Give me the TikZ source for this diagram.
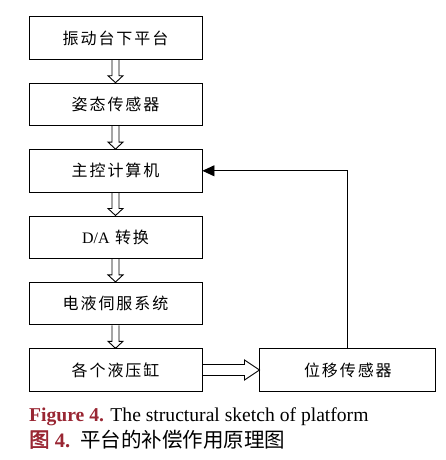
\documentclass[tikz,border=0pt]{standalone}
\usepackage{fontspec}
\setmainfont{Liberation Serif}
\newfontfamily\cjkbox[LetterSpace=12]{Noto Sans CJK SC}
\newfontfamily\cjk[AutoFakeBold=2]{Noto Sans CJK SC}
\usetikzlibrary{calc, positioning, arrows.meta}
\definecolor{figred}{RGB}{153,38,51}
\tikzset{ b/.style = { rectangle
                       , draw
                       , line width   = 0.9pt
                       , minimum width  = 173pt
                       , minimum height = 42.5pt
                       , inner sep    = 0pt
                       , font         = \fontsize{16}{18}\selectfont\cjkbox
                       },
          hollow/.style = { line width = 0.9pt
                          , line join  = miter
                          },
          fb/.style = { line width = 0.9pt
                      , -{Triangle[length=12pt, width=11pt]}
                      }
        }
% hollow arrow downwards, from box #1 to box #2
\newcommand{\hollowdown}[2]{%
  \draw[hollow] ($(#1.south)+(-3.5,0)$) -- ($(#2.north)+(-3.5,-7)$) -- ++(-4,0)
    -- (#2.north) -- ++(7.5,-7) -- ++(-4,0) -- ($(#1.south)+(3.5,0)$);}
% hollow arrow to the right
\newcommand{\hollowright}[2]{%
  \draw[hollow] ($(#1.east)+(0,-5.5)$) -- ($(#2.west)+(-15,-5.5)$) -- ++(0,-4.5)
    -- (#2.west) -- ++(-15,10) -- ++(0,-4.5) -- ($(#1.east)+(0,5.5)$);}

\begin{document}
\begin{tikzpicture}[x=1pt, y=-1pt, node distance=23pt]
  \useasboundingbox (0,0) rectangle (445,460);
  \node[b] (plat)  at (115.5,38) {振动台下平台};
  \node[b, below=of plat]  (att)   {姿态传感器};
  \node[b, below=of att]   (ctrl)  {主控计算机};
  \node[b, below=of ctrl]  (da)    {{\rmfamily D/A} 转换};
  \node[b, below=of da]    (servo) {电液伺服系统};
  \node[b, below=of servo] (cyl)   {各个液压缸};
  \node[b, right=57pt of cyl, minimum width=176pt] (disp) {位移传感器};

  \hollowdown{plat}{att}
  \hollowdown{att}{ctrl}
  \hollowdown{ctrl}{da}
  \hollowdown{da}{servo}
  \hollowdown{servo}{cyl}
  \hollowright{cyl}{disp}
  \draw[fb] (disp.north) |- (ctrl.east);

  % caption
  \node[anchor=base west, inner sep=0pt, font=\fontsize{19.6}{21}\selectfont] (cap1) at (29,421)
    {\textcolor{figred}{\bfseries Figure 4.} The structural sketch of platform};
  \node[anchor=base west, inner sep=0pt, font=\fontsize{20.5}{22}\selectfont] (cap2) at (29,447)
    {\textcolor{figred}{{\cjk\bfseries 图} \bfseries 4.}\hspace{10pt}{\cjk 平台的补偿作用原理图}};
\end{tikzpicture}
\end{document}
